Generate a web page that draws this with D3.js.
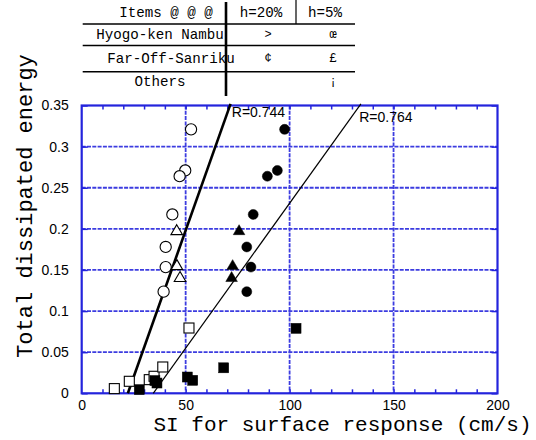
<!DOCTYPE html>
<html><head><meta charset="utf-8">
<script src="https://cdn.jsdelivr.net/npm/d3@7/dist/d3.min.js"></script>
<style>body{margin:0;background:#fff}svg{display:block}</style>
</head><body>
<svg id="c" width="536" height="440"></svg>
<script>
// ---- data ----
const xTicks = [0, 50, 100, 150, 200];
const yTicks = [0, 0.05, 0.1, 0.15, 0.2, 0.25, 0.3, 0.35];
const yTickLabels = ["0", "0.05", "0.1", "0.15", "0.2", "0.25", "0.3", "0.35"];

const circleEnergy = [0.321, 0.271, 0.264, 0.2175, 0.178, 0.1535, 0.1236];
const openCircleSI = [52.6, 49.8, 47.1, 43.6, 40.4, 40.4, 39.4];
const filledCircleSI = [97.6, 94.1, 89.3, 82.5, 79.4, 81.4, 79.4];

const triangleEnergy = [0.198, 0.1555, 0.141];
const openTriangleSI = [45.7, 45.8, 47.3];
const filledTriangleSI = [75.7, 72.6, 72.1];

const openSquareSI = [15.7, 22.9, 32.5, 34.8, 39.0, 51.6];
const openSquareEnergy = [0.0057, 0.0146, 0.0166, 0.0207, 0.032, 0.0794];
const filledSquareSI = [27.7, 35.2, 36.2, 50.8, 53.4, 68.3, 103.1];
const filledSquareEnergy = [0.0045, 0.0155, 0.0125, 0.0198, 0.0158, 0.031, 0.079];

const fit20SI = [22.2, 71.6];
const fit20Energy = [0, 0.352];
const fit5SI = [34.4, 134.3];
const fit5Energy = [0, 0.352];
const rLabels = ["R=0.744", "R=0.764"];
const rLabelSI = [72.2, 133.5];
const rLabelEnergy = [0.336, 0.33];

const tableHeader = ["Items @ @ @", "h=20%", "h=5%"];
const tableRows = [
  ["Hyogo-ken Nambu", ">", "œ"],
  ["Far-Off-Sanriku", "¢", "£"],
  ["Others", "", "¡"]
];

const xTitle = "SI for surface response (cm/s)";
const yTitle = "Total dissipated energy";

// ---- drawing ----
const svg = d3.select("#c");
const L = 81.7, R = 497.5, T = 105.5, B = 393.3;
const x = d3.scaleLinear().domain([0, 200]).range([L, R]);
const y = d3.scaleLinear().domain([0, 0.35]).range([B, T]);
const blue = "#2424dc";
const mono = "'Liberation Mono','DejaVu Sans Mono',monospace";
const sans = "'Liberation Sans',Arial,sans-serif";

// grid
const grid = svg.append("g");
grid.selectAll("line.gx").data(xTicks.slice(1, -1)).enter().append("line")
  .attr("x1", d => x(d)).attr("x2", d => x(d)).attr("y1", T).attr("y2", B)
  .attr("stroke", "#3c3ce0").attr("stroke-width", 1.8).attr("stroke-dasharray", "4,1.3");
grid.selectAll("line.gy").data(yTicks.slice(1, -1)).enter().append("line")
  .attr("y1", d => y(d)).attr("y2", d => y(d)).attr("x1", L).attr("x2", R)
  .attr("stroke", "#3c3ce0").attr("stroke-width", 1.8).attr("stroke-dasharray", "4,1.3");

// axes via d3 axis
const minor = d3.range(10, 200, 10);
const axB = svg.append("g").attr("transform", `translate(0,${B})`)
  .call(d3.axisBottom(x).tickValues(minor).tickSize(-4).tickFormat(""));
const axTp = svg.append("g").attr("transform", `translate(0,${T})`)
  .call(d3.axisTop(x).tickValues(minor).tickSize(-4).tickFormat(""));
const axBL = svg.append("g").attr("transform", `translate(0,${B})`)
  .call(d3.axisBottom(x).tickValues(xTicks).tickSize(0).tickPadding(7).tickFormat(d3.format("d")));
const axL = svg.append("g").attr("transform", `translate(${L},0)`)
  .call(d3.axisLeft(y).tickValues(yTicks).tickSize(-6).tickPadding(19).tickFormat((d, i) => yTickLabels[i]));
const axR = svg.append("g").attr("transform", `translate(${R},0)`)
  .call(d3.axisRight(y).tickValues(yTicks).tickSize(-6).tickFormat(""));
[axB, axTp, axBL, axL, axR].forEach(g => {
  g.select(".domain").remove();
  g.selectAll(".tick line").attr("stroke", blue).attr("stroke-width", 1.5);
  g.selectAll("text").attr("fill", "#000").style("font-family", sans).style("font-size", "14px");
});
axL.selectAll("text").attr("text-anchor", "end").attr("dx", "6");
// border
svg.append("rect").attr("x", L).attr("y", T).attr("width", R - L).attr("height", B - T)
  .attr("fill", "none").attr("stroke", blue).attr("stroke-width", 2.2);

// regression lines
const line = d3.line().x(d => x(d[0])).y(d => y(d[1]));
svg.append("path").datum(d3.zip(fit20SI, fit20Energy)).attr("d", line)
  .attr("stroke", "#000").attr("stroke-width", 2.6).attr("fill", "none");
svg.append("path").datum(d3.zip(fit5SI, fit5Energy)).attr("d", line)
  .attr("stroke", "#000").attr("stroke-width", 1.2).attr("fill", "none");
svg.selectAll("text.rl").data(rLabels).enter().append("text")
  .attr("x", (d, i) => x(rLabelSI[i])).attr("y", (d, i) => y(rLabelEnergy[i]))
  .text(d => d).style("font-family", sans).style("font-size", "14px").attr("fill", "#000");

// markers
const pts = svg.append("g");
function circles(xs, ys, filled) {
  pts.selectAll(null).data(d3.zip(xs, ys)).enter().append("circle")
    .attr("cx", d => x(d[0])).attr("cy", d => y(d[1])).attr("r", filled ? 5 : 5.6)
    .attr("fill", filled ? "#000" : "#fff").attr("stroke", "#000").attr("stroke-width", filled ? 0.5 : 1.1);
}
function triangles(xs, ys, filled) {
  const s = 5.8;
  pts.selectAll(null).data(d3.zip(xs, ys)).enter().append("path")
    .attr("d", d => { const cx = x(d[0]), cy = y(d[1]);
      return `M${cx},${cy - s}L${cx + s},${cy + s * 0.72}L${cx - s},${cy + s * 0.72}Z`; })
    .attr("fill", filled ? "#000" : "#fff").attr("stroke", "#000").attr("stroke-width", filled ? 0.5 : 1.1);
}
function squares(xs, ys, filled) {
  const h = 5;
  pts.selectAll(null).data(d3.zip(xs, ys)).enter().append("rect")
    .attr("x", d => x(d[0]) - h).attr("y", d => y(d[1]) - h).attr("width", 2 * h).attr("height", 2 * h)
    .attr("fill", filled ? "#000" : "#fff").attr("stroke", "#000").attr("stroke-width", filled ? 0.5 : 1.1);
}
squares(openSquareSI, openSquareEnergy, false);
squares(filledSquareSI, filledSquareEnergy, true);
circles(openCircleSI, circleEnergy, false);
circles(filledCircleSI, circleEnergy, true);
triangles(openTriangleSI, triangleEnergy, false);
triangles(filledTriangleSI, triangleEnergy, true);

// titles
svg.append("text").attr("x", 342.5).attr("y", 431).attr("text-anchor", "middle")
  .text(xTitle).style("font-family", mono).style("font-size", "21px").attr("fill", "#000");
svg.append("text").attr("transform", "translate(31.5,206) rotate(-90)").attr("text-anchor", "middle")
  .text(yTitle).style("font-family", mono).style("font-size", "22px").attr("fill", "#000");

// table
const tb = svg.append("g").style("font-family", mono).style("font-size", "14.2px").attr("fill", "#000");
const rowLines = [24, 45.5, 71.7];
tb.selectAll("line.h").data(rowLines).enter().append("line")
  .attr("x1", 82.7).attr("x2", 355).attr("y1", d => d).attr("y2", d => d)
  .attr("stroke", "#000").attr("stroke-width", 1.6);
tb.append("line").attr("x1", 226).attr("x2", 226).attr("y1", 2).attr("y2", 96)
  .attr("stroke", "#000").attr("stroke-width", 2.6);
tb.append("line").attr("x1", 296).attr("x2", 296).attr("y1", 0).attr("y2", 24)
  .attr("stroke", "#000").attr("stroke-width", 1.2);
const headX = [166, 261, 325];
tb.selectAll("text.hd").data(tableHeader).enter().append("text")
  .attr("x", (d, i) => headX[i]).attr("y", 17).attr("text-anchor", "middle").text(d => d);
const rowY = [39, 63.3, 86];
const nameX = [160, 171, 160];
const symX = [268, 333];
tableRows.forEach((r, i) => {
  tb.append("text").attr("x", nameX[i]).attr("y", rowY[i]).attr("text-anchor", "middle").text(r[0]);
  tb.append("text").attr("x", symX[0]).attr("y", rowY[i] - 1).attr("text-anchor", "middle")
    .style("font-size", "12px").text(r[1]);
  tb.append("text").attr("x", symX[1]).attr("y", rowY[i] - 1).attr("text-anchor", "middle")
    .style("font-size", "12px").text(r[2]);
});
</script>
</body></html>
